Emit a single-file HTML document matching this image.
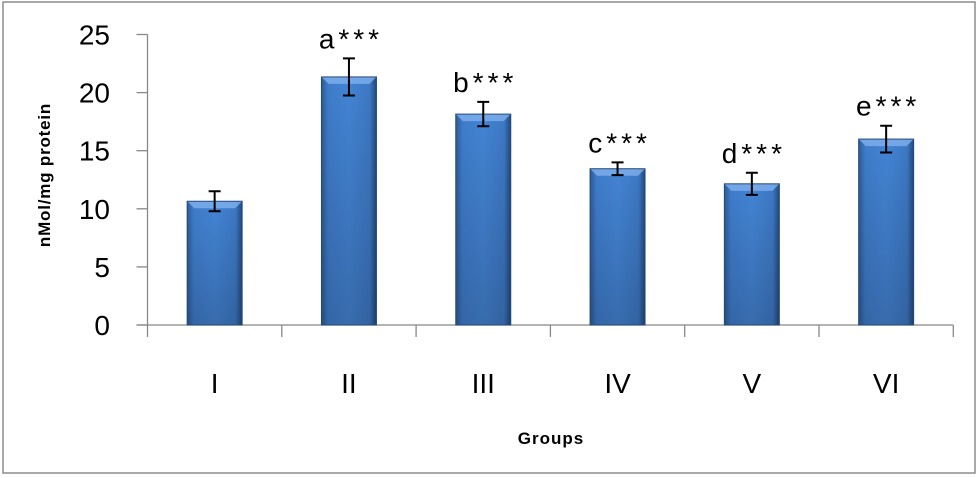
<!DOCTYPE html>
<html><head><meta charset="utf-8"><style>
html,body{margin:0;padding:0;background:#fff;}
svg{display:block;font-family:"Liberation Sans",sans-serif;}
</style></head><body>
<svg id="chart" width="978" height="478">
<defs>
<linearGradient id="bg" x1="0" x2="1" y1="0" y2="0">
<stop offset="0" stop-color="#2c5b95"/><stop offset="0.12" stop-color="#3f7ccb"/>
<stop offset="0.5" stop-color="#4384d4"/><stop offset="0.88" stop-color="#3d78c4"/><stop offset="1" stop-color="#23497a"/>
</linearGradient>
<linearGradient id="bv" x1="0" x2="0" y1="0" y2="1">
<stop offset="0" stop-color="#000" stop-opacity="0"/><stop offset="1" stop-color="#000" stop-opacity="0.18"/>
</linearGradient>
</defs>
<rect x="3" y="2" width="972" height="471" fill="#fff" stroke="#8c8c8c" stroke-width="1.5"/>
<text x="50" y="175" transform="rotate(-90 50 175)" text-anchor="middle" font-size="17" font-weight="bold" letter-spacing="0.8" fill="#000">nMol/mg protein</text>
<text x="551" y="444" text-anchor="middle" font-size="17" font-weight="bold" letter-spacing="1" fill="#000">Groups</text>
<g id="axes"></g>
<g id="bars"></g>
</svg>
<script>
const categories = ["I","II","III","IV","V","VI"];
const values = [10.65, 21.35, 18.15, 13.45, 12.15, 16.0];
const errors = [0.86, 1.6, 1.05, 0.55, 0.95, 1.15];
const annotations = ["", "a***", "b***", "c***", "d***", "e***"];
const yTicks = [0,5,10,15,20,25];

const NS = "http://www.w3.org/2000/svg";
const x0 = 147.5, catW = 134.3, y0 = 325, yMax = 25, yTop = 34.5;
function yScale(v){ return y0 - v/yMax*(y0-yTop); }
function xCenter(i){ return x0 + catW*(i+0.5); }
function mk(tag, attrs, parent){ const e=document.createElementNS(NS,tag); for(const k in attrs) e.setAttribute(k,attrs[k]); parent.appendChild(e); return e; }
const axes=document.getElementById('axes'), bars=document.getElementById('bars');

const yAxis = mk('line',{x1:x0,x2:x0,y1:yTop,y2:y0+12,stroke:'#888','stroke-width':1.3},axes);


const xAxis = mk('line',{x1:x0-11,x2:x0+catW*categories.length,y1:y0,y2:y0,stroke:'#888','stroke-width':1.3},axes);


yTicks.forEach(t=>{
  const y=yScale(t);
  const tk=mk('line',{x1:x0-11,x2:x0,y1:y,y2:y,stroke:'#888','stroke-width':1.3},axes);
  
  
  const lb=mk('text',{x:110,y:y+10,'text-anchor':'end','font-size':28,fill:'#000'},axes);
  lb.textContent=t;
  
  
});
for(let i=1;i<=categories.length;i++){
  const x=x0+catW*i;
  const tk=mk('line',{x1:x,x2:x,y1:y0,y2:y0+12,stroke:'#888','stroke-width':1.3},axes);
  
  
}
categories.forEach((c,i)=>{
  const cx=xCenter(i), bw=55, v=values[i], top=yScale(v);
  const g=mk('g',{},bars);
  
  
  mk('rect',{x:cx-bw/2,y:top,width:bw,height:y0-top,fill:'url(#bg)'},g);
  mk('rect',{x:cx-bw/2,y:top,width:bw,height:y0-top,fill:'url(#bv)'},g);
  mk('polygon',{points:`${cx-bw/2},${top} ${cx+bw/2},${top} ${cx+bw/2-7},${top+7} ${cx-bw/2+7},${top+7}`,fill:'#7fb0ee',opacity:0.8},g);
  mk('rect',{x:cx-bw/2,y:top,width:bw,height:y0-top,fill:'none',stroke:'#244a7c','stroke-width':1},g);
  const e=errors[i], yh=yScale(v+e), yl=yScale(v-e);
  const eb=mk('path',{d:`M${cx},${yh}V${yl}M${cx-6},${yh}H${cx+6}M${cx-6},${yl}H${cx+6}`,stroke:'#000','stroke-width':2,fill:'none'},g);
  
  
  if(annotations[i]){
    const t=mk('text',{x:cx+2,y:yh-10,'text-anchor':'middle','font-size':28,'letter-spacing':4,fill:'#000'},bars);
    t.textContent=annotations[i];
    
    
  }
  const cl=mk('text',{x:cx,y:393,'text-anchor':'middle','font-size':28,fill:'#000'},bars);
  cl.textContent=c;
  
  
});
</script>
</body></html>
